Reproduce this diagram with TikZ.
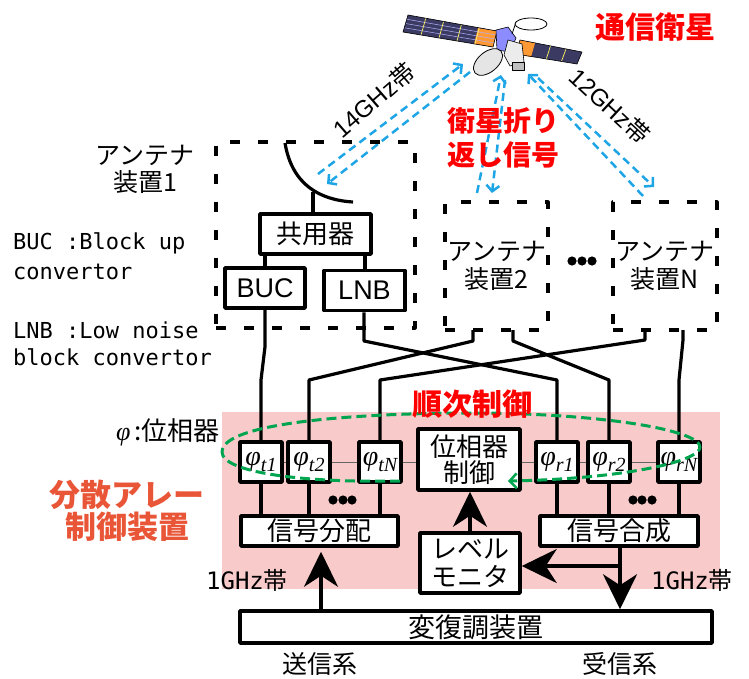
\documentclass[tikz,border=0pt]{standalone}
\usepackage{fontspec}
\setmainfont{Noto Sans CJK JP}
\newfontfamily\arial{Liberation Sans}
\newfontfamily\tms{Liberation Serif}
\newfontfamily\mono{DejaVu Sans Mono}
\usetikzlibrary{arrows.meta,backgrounds,calc}

\definecolor{sat_red}{RGB}{255,0,0}
\definecolor{dev_orange}{RGB}{233,85,55}
\definecolor{link_blue}{RGB}{30,165,230}
\definecolor{seq_green}{RGB}{0,165,80}
\definecolor{area_pink}{RGB}{248,202,202}
\definecolor{panel_blue}{RGB}{58,58,98}

% phase shifter label: phi with subscript
\newcommand{\phs}[1]{{\tms\itshape φ}\raisebox{-6pt}{\tms\itshape\fontsize{20}{20}\selectfont #1}}

\begin{document}
\begin{tikzpicture}[x=1pt, y=-1pt, line join=round,
  sig_box/.style={draw, line width=3.5pt, fill=white, inner sep=0pt, font=\fontsize{26}{30}\selectfont},
  ph_box/.style={sig_box, minimum width=42pt, minimum height=40pt, font=\fontsize{28}{28}\selectfont},
  ant_box/.style={draw, line width=3.2pt, dash pattern=on 10pt off 18pt, inner sep=0pt, align=center, font=\fontsize{25}{28}\selectfont},
  wire/.style={line width=3.2pt},
  radio/.style={link_blue, line width=2.5pt, dash pattern=on 8pt off 5pt, -{Straight Barb[length=6pt,width=13pt,line width=2.5pt]}},
  fat_arrow/.style={line width=3.5pt, -{Stealth[length=35pt,width=34pt,inset=11pt]}},
  jp_label/.style={font=\fontsize{25}{27}\selectfont, align=center},
  note_label/.style={font=\mono\fontsize{22}{22}\selectfont, anchor=west, inner sep=0pt},
  red_label/.style={font=\bfseries\fontsize{30}{34}\selectfont, text=sat_red, align=center},
]
\useasboundingbox (0,0) rectangle (749,678);

% satellite
\fill[panel_blue] (408,15) -- (497,31) -- (493,47) -- (403,32) -- cycle;
\fill[orange!80] (478,28) -- (497,31) -- (493,47) -- (474,44) -- cycle;
\foreach \k in {0.25,0.5,0.75}
  \draw[white!70!blue, line width=0.5pt] ($(408,15)!\k!(403,32)$) -- ($(497,31)!\k!(493,47)$);
\foreach \k in {0.2,0.4,0.6,0.8}
  \draw[yellow!60, line width=0.7pt] ($(408,15)!\k!(497,31)$) -- ($(403,32)!\k!(493,47)$);
\draw[line width=0.6pt] (408,15) -- (497,31) -- (493,47) -- (403,32) -- cycle;
\fill[panel_blue] (520,40) -- (582,52) -- (577,64) -- (516,54) -- cycle;
\fill[orange!80] (520,40) -- (535,43) -- (531,57) -- (516,54) -- cycle;
\foreach \k in {0.33,0.66}
  \draw[yellow!60, line width=0.7pt] ($(535,43)!\k!(582,52)$) -- ($(531,57)!\k!(577,64)$);
\draw[line width=0.6pt] (520,40) -- (582,52) -- (577,64) -- (516,54) -- cycle;
\filldraw[fill=blue!45!white, line width=0.6pt] (496,30) -- (508,27) -- (516,38) -- (510,52) -- (497,50) -- cycle;
\filldraw[fill=gray!15, line width=0.6pt] (508,40) -- (522,44) -- (524,62) -- (510,66) -- (504,55) -- cycle;
\filldraw[fill=gray!50, line width=0.5pt] (512,62) rectangle (524,70);
\draw[line width=0.8pt] (512,34) -- (516,22);
\filldraw[fill=white, line width=0.8pt] (531,24) ellipse [x radius=16, y radius=6];
\filldraw[fill=gray!20, line width=0.8pt, rotate around={40:(488,62)}] (488,62) ellipse [x radius=17, y radius=10];

\draw (655,27) node (sat_name) [red_label] {通信衛星};

% radio links
\draw[radio] (318,174) -- (463,64);
\draw[radio] (470,72) -- (327,184);
\draw[radio] (477,193) -- (501,75);
\draw[radio] (505,80) -- (492,193);
\draw[radio] (643,196) -- (528,74);
\draw[radio] (538,78) -- (654,187);
\draw (374,100) node (up_band) [rotate=41, font=\fontsize{24}{24}\selectfont] {{\arial 14GHz}帯};
\draw (610,106) node (down_band) [rotate=-43, font=\fontsize{24}{24}\selectfont] {{\arial 12GHz}帯};
\draw (503,138) node (loop_back) [red_label, font=\bfseries\fontsize{28}{34}\selectfont] {衛星折り\\返し信号};

% antenna units
\draw (315.5,235) node (ant1) [ant_box, minimum width=199pt, minimum height=186pt] {};
\draw (496.5,266) node (ant2) [ant_box, minimum width=103pt, minimum height=128pt] {アンテナ\\装置2};
\draw (665,266) node (antN) [ant_box, minimum width=104pt, minimum height=128pt] {アンテナ\\装置N};
\foreach \dx in {572,582,592} \fill (\dx,261) circle (4.6pt);
\draw (145,169) node (ant1_name) [jp_label] {アンテナ\\装置1};

\draw (315.5,234) node (dup) [sig_box, minimum width=111pt, minimum height=40pt] {共用器};
\draw (265,288) node (buc) [sig_box, minimum width=80pt, minimum height=40pt, font=\arial\fontsize{27}{27}\selectfont] {BUC};
\draw (364.5,290.5) node (lnb) [sig_box, minimum width=81pt, minimum height=40pt, font=\arial\fontsize{27}{27}\selectfont] {LNB};
\draw[wire] (285,143) .. controls (292,185) and (320,200) .. (353,202);
\draw[wire] (313,192) -- (dup.north -| 313,0);
\draw[wire] (dup.south -| 265,0) -- (buc.north);
\draw[wire] (dup.south -| 365,0) -- (lnb.north -| 365,0);

\draw (13,243) node (buc_note) [note_label] {BUC :Block up};
\draw (13,272) node [note_label] {convertor};
\draw (13,330) node (lnb_note) [note_label] {LNB :Low noise};
\draw (13,357) node [note_label] {block convertor};

% distributed array controller
\draw (261,462) node (t1) [ph_box] {\phs{t1}};
\draw (309,462) node (t2) [ph_box] {\phs{t2}};
\draw (380,462) node (tN) [ph_box] {\phs{tN}};
\draw (557,462) node (r1) [ph_box] {\phs{r1}};
\draw (609,462) node (r2) [ph_box] {\phs{r2}};
\draw (679,462) node (rN) [ph_box] {\phs{rN}};
\draw (469,459.5) node (ctrl) [sig_box, minimum width=102pt, minimum height=61pt, align=center, font=\fontsize{26}{26}\selectfont] {位相器\\制御};
\draw (319.5,531) node (dist) [sig_box, minimum width=157pt, minimum height=30pt] {信号分配};
\draw (619,531) node (comb) [sig_box, minimum width=158pt, minimum height=30pt] {信号合成};
\draw (470,563) node (level) [sig_box, minimum width=100pt, minimum height=60pt, align=center, font=\fontsize{26}{28}\selectfont] {レベル\\モニタ};
\draw (476,627) node (modem) [sig_box, minimum width=472pt, minimum height=32pt, font=\fontsize{27}{30}\selectfont] {変復調装置};

\begin{scope}[on background layer]
  \fill[area_pink] (222,412) rectangle (720,589);
  \draw[line width=1pt, black!60] (t1) -- (rN);
\end{scope}

% antenna to phase shifter wiring
\coordinate (a2_tx) at (473,330);
\coordinate (a2_rx) at (513,330);
\coordinate (aN_tx) at (645,330);
\coordinate (aN_rx) at (683,330);
\draw[wire] (buc.south) -- ++(0,37) -- (t1.north |- 0,380) -- (t1.north);
\draw[wire] (lnb.south -| 364,0) -- (364,341) -- (r1.north |- 0,380) -- (r1.north);
\draw[wire] (a2_tx) -- ++(0,11) -- (t2.north |- 0,380) -- (t2.north);
\draw[wire] (a2_rx) -- ++(0,11) -- (r2.north |- 0,380) -- (r2.north);
\draw[wire] (aN_tx) -- ++(0,10) -- (tN.north |- 0,380) -- (tN.north);
\draw[wire] (aN_rx) -- ++(0,10) -- (rN.north |- 0,380) -- (rN.north);

\foreach \p in {t1,t2,tN} \draw[wire] (\p.south) -- (\p.south |- dist.north);
\foreach \p in {r1,r2,rN} \draw[wire] (\p.south) -- (\p.south |- comb.north);
\foreach \dx in {333,343,352} \fill (\dx,500) circle (4.6pt);
\foreach \dx in {633,642,652} \fill (\dx,500) circle (4.6pt);

% IF and monitor paths
\coordinate (rx_tap) at (620,566);
\draw[fat_arrow, shorten >=4pt] (modem.north -| 321,0) -- (dist.south -| 321,0);
\draw[fat_arrow] (level.north) -- (level.north |- ctrl.south);
\draw[wire] (comb.south -| rx_tap) -- (rx_tap);
\draw[fat_arrow] (rx_tap) -- (level.east |- rx_tap);
\draw[fat_arrow] (rx_tap) -- (rx_tap |- modem.north);

% sequential control loop
\draw[seq_green, line width=3pt, dash pattern=on 10pt off 5pt, -{Straight Barb[length=7pt,width=15pt,line width=2.5pt]}]
  (400,481) .. controls (300,483) and (222,472) .. (222,452)
  .. controls (222,420) and (380,413) .. (470,413)
  .. controls (600,413) and (700,430) .. (700,447)
  .. controls (700,462) and (620,479) .. (508,481);
\draw (472,404) node (seq_name) [red_label] {順次制御};

\draw (168,432) node (ph_note) [font=\fontsize{26}{26}\selectfont] {{\tms\itshape φ}\,:位相器};
\draw (127,511) node (dev_name) [red_label, text=dev_orange, font=\bfseries\fontsize{31}{32}\selectfont] {分散アレー\\制御装置};
\draw (247,580) node (tx_band) [font=\fontsize{24}{24}\selectfont] {{\mono 1GHz}帯};
\draw (692,580) node (rx_band) [font=\fontsize{24}{24}\selectfont] {{\mono 1GHz}帯};
\draw (320,664) node (tx_side) [font=\fontsize{25}{25}\selectfont] {送信系};
\draw (620,664) node (rx_side) [font=\fontsize{25}{25}\selectfont] {受信系};
\end{tikzpicture}
\end{document}
